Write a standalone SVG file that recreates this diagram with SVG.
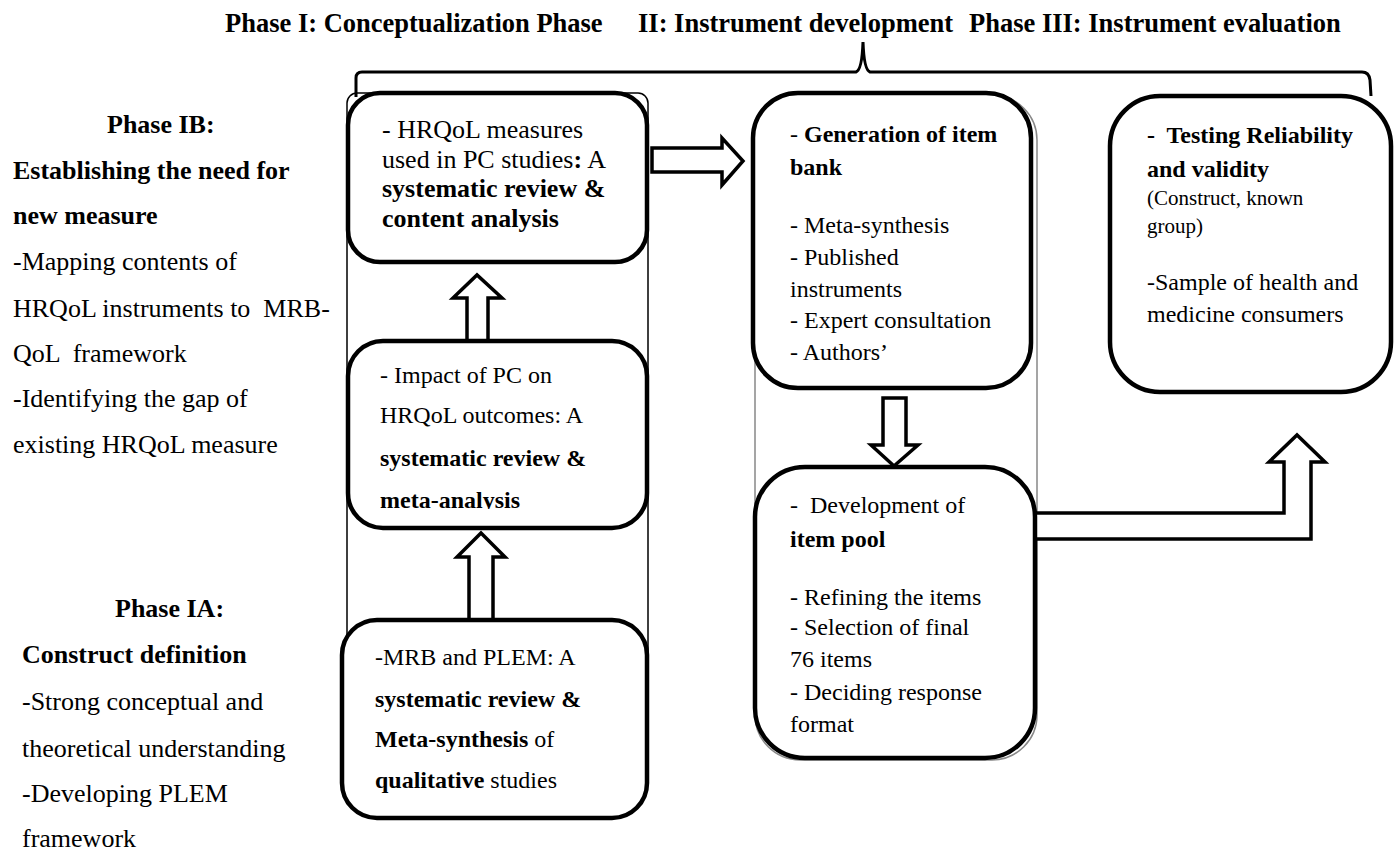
<svg xmlns="http://www.w3.org/2000/svg" width="1394" height="851" viewBox="0 0 1394 851">
<style>
text{font-family:"Liberation Serif","Times New Roman",serif;fill:#000}
.t{font-size:26.5px;font-weight:bold}
.l{font-size:26px}
.b{font-weight:bold}
.s{font-size:24px}
.s26{font-size:26px}
.sm{font-size:21px}
.box{fill:#fff;stroke:#000;stroke-width:4.5}
.arr{fill:#fff;stroke:#000;stroke-width:3.5;stroke-linejoin:miter}
.cont{fill:none;stroke:#000;stroke-width:1.5}
.cont2{fill:none;stroke:#888;stroke-width:1.5}
.brace{fill:none;stroke:#000;stroke-width:3}
</style>
<defs>
<clipPath id="clip2"><rect x="348" y="341" width="300" height="168"/></clipPath>
</defs>
<rect width="1394" height="851" fill="#fff"/>

<g id="titles">
<text class="t" x="225" y="32">Phase I: Conceptualization Phase</text>
<text class="t" x="638" y="32">II: Instrument development</text>
<text class="t" x="969" y="32">Phase III: Instrument evaluation</text>
</g>

<g id="brace">
<path class="brace" d="M356,97 L356,78 Q356,72 362,72 L856,72 Q862,70 863,42 Q864,70 870,72 L1362,72 Q1369,72 1370,80 L1371,96"/>
</g>

<g id="containers">
<rect class="cont" x="347" y="93" width="301" height="700" rx="10"/>
<rect class="cont2" x="755" y="95" width="282" height="665" rx="45"/>
</g>

<g id="phaseIB">
<text class="l b" x="107" y="133">Phase IB:</text>
<text class="l b" x="13" y="179">Establishing the need for</text>
<text class="l b" x="13" y="224">new measure</text>
<text class="l" x="13" y="270">-Mapping contents of</text>
<text class="l" x="13" y="317" xml:space="preserve">HRQoL instruments to  MRB-</text>
<text class="l" x="13" y="362" xml:space="preserve">QoL  framework</text>
<text class="l" x="13" y="407">-Identifying the gap of</text>
<text class="l" x="13" y="453">existing HRQoL measure</text>
</g>

<g id="phaseIA">
<text class="l b" x="115" y="617">Phase IA:</text>
<text class="l b" x="22" y="663">Construct definition</text>
<text class="l" x="22" y="710">-Strong conceptual and</text>
<text class="l" x="22" y="757">theoretical understanding</text>
<text class="l" x="22" y="802">-Developing PLEM</text>
<text class="l" x="22" y="847">framework</text>
</g>

<g id="connectors">
<polygon class="arr" points="652,148 722,148 722,138 743,161 722,185 722,172 652,172"/>
<polygon class="arr" points="467,343 467,298 453,298 477,275 502,298 488,298 488,343"/>
<polygon class="arr" points="469,620 469,557 457,557 481,533 505,557 493,557 493,620"/>
<polygon class="arr" points="883,398 906,398 906,445 918,445 894,466 871,445 883,445"/>
<polygon class="arr" points="1035,513 1284,513 1284,462 1269,462 1297,435 1325,462 1311,462 1311,539 1035,539"/>
</g>

<g id="box1">
<rect class="box" x="348" y="93" width="299" height="169" rx="32"/>
<text class="s26" x="382" y="138">- HRQoL measures</text>
<text class="s26" x="382" y="168">used in PC studies<tspan class="b">:</tspan> A</text>
<text class="s26 b" x="382" y="197">systematic review &amp;</text>
<text class="s26 b" x="382" y="227">content analysis</text>
</g>

<g id="box2">
<rect class="box" x="348" y="341" width="299" height="187" rx="35"/>
<g clip-path="url(#clip2)">
<text class="s" x="380" y="383">- Impact of PC on</text>
<text class="s" x="380" y="423">HRQoL outcomes: A</text>
<text class="s b" x="380" y="466">systematic review &amp;</text>
<text class="s b" x="380" y="508">meta-analysis</text>
</g>
</g>

<g id="box3">
<rect class="box" x="342" y="620" width="305" height="198" rx="35"/>
<text class="s" x="375" y="665">-MRB and PLEM: A</text>
<text class="s b" x="375" y="707">systematic review &amp;</text>
<text class="s" x="375" y="747"><tspan class="b">Meta-synthesis</tspan> of</text>
<text class="s" x="375" y="788"><tspan class="b">qualitative</tspan> studies</text>
</g>

<g id="box4">
<rect class="box" x="753" y="93" width="278" height="295" rx="45"/>
<text class="s" x="790" y="142">- <tspan class="b">Generation of item</tspan></text>
<text class="s b" x="790" y="175">bank</text>
<text class="s" x="790" y="233">- Meta-synthesis</text>
<text class="s" x="790" y="265">- Published</text>
<text class="s" x="790" y="297">instruments</text>
<text class="s" x="790" y="328">- Expert consultation</text>
<text class="s" x="790" y="360">- Authors’</text>
</g>

<g id="box5">
<rect class="box" x="755" y="467" width="280" height="291" rx="50"/>
<text class="s" x="790" y="513" xml:space="preserve">-  Development of</text>
<text class="s b" x="790" y="547">item pool</text>
<text class="s" x="790" y="605">- Refining the items</text>
<text class="s" x="790" y="635">- Selection of final</text>
<text class="s" x="790" y="667">76 items</text>
<text class="s" x="790" y="700">- Deciding response</text>
<text class="s" x="790" y="732">format</text>
</g>

<g id="box6">
<rect class="box" x="1110" y="96" width="281" height="296" rx="50"/>
<text class="s b" x="1147" y="143" xml:space="preserve">-  Testing Reliability</text>
<text class="s b" x="1147" y="177">and validity</text>
<text class="sm" x="1147" y="205">(Construct, known</text>
<text class="sm" x="1147" y="233">group)</text>
<text class="s" x="1147" y="290">-Sample of health and</text>
<text class="s" x="1147" y="322">medicine consumers</text>
</g>
</svg>
